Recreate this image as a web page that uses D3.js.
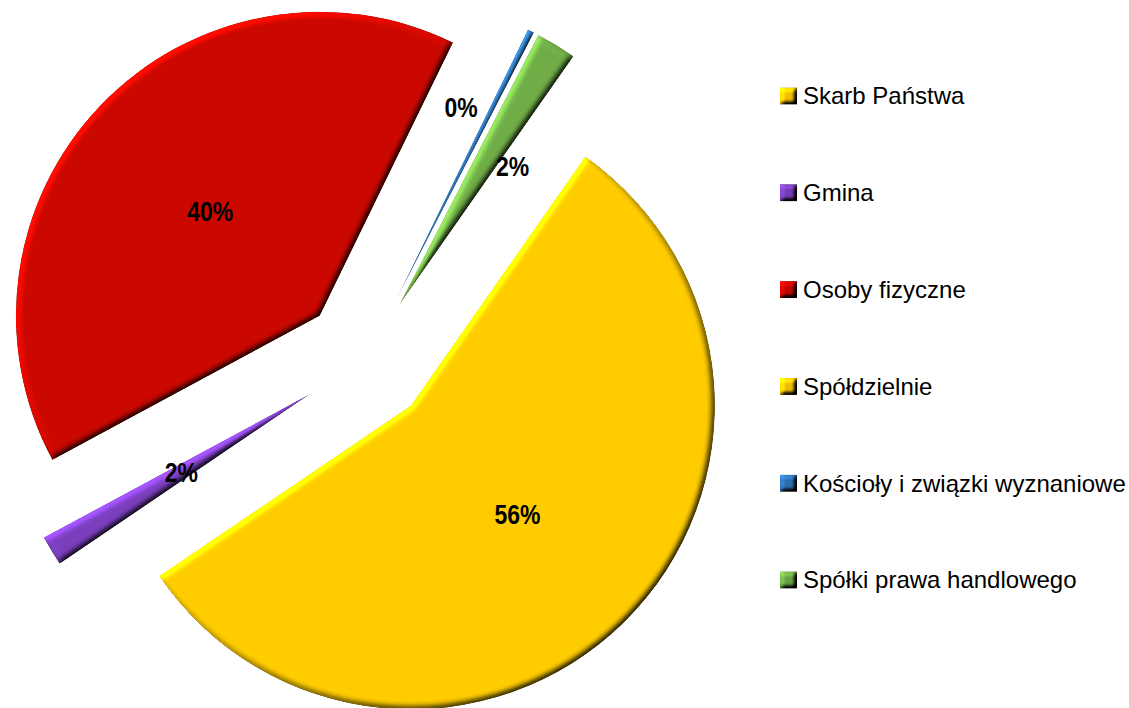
<!DOCTYPE html>
<html>
<head>
<meta charset="utf-8">
<script src="https://cdn.jsdelivr.net/npm/d3@7"></script>
<style>
	html, body { margin: 0; padding: 0; background: #fff; }
	svg { display: block; }
</style>
</head>
<body>
<script>
// categories in legend order (== clockwise slice order starting at the first slice)
var categories = ['Skarb Państwa', 'Gmina', 'Osoby fizyczne', 'Spółdzielnie', 'Kościoły i związki wyznaniowe', 'Spółki prawa handlowego'];
// shares in percent
var shares = [55.8, 1.6, 40.1, 0, 0.35, 2.15];
var colors = ['#FFCC00', '#7B3FBE', '#CA0800', '#FFCC00', '#2E74B5', '#70AD47'];

var width = 1129,
	height = 708;

var cx = 366, cy = 360;
var radius = 304;
var explode = 64;
var firstSliceAngle = 35; // degrees, like excel "angle of first slice"

// labels of the thin slices were pushed aside to avoid overlap
var labelShift = {
	'Kościoły i związki wyznaniowe': {angle: -6, dist: 270},
	'Spółki prawa handlowego': {angle: 6, dist: 243}
};

var svg = d3.select('body').append('svg')
	.attr('width', width)
	.attr('height', height);

var defs = svg.append('defs');

function bevel(id, blur, scale){
	var f = defs.append('filter')
		.attr('id', id)
		.attr('x', '-10%').attr('y', '-10%')
		.attr('width', '120%').attr('height', '120%')
		.attr('color-interpolation-filters', 'sRGB');
	f.append('feGaussianBlur')
		.attr('in', 'SourceAlpha')
		.attr('stdDeviation', blur)
		.attr('result', 'blur');
	f.append('feDiffuseLighting')
		.attr('in', 'blur')
		.attr('surfaceScale', scale)
		.attr('diffuseConstant', 1)
		.attr('lighting-color', '#fff')
		.attr('result', 'light')
		.append('feDistantLight')
			.attr('azimuth', 225)
			.attr('elevation', 45);
	// flat parts keep their colour (light = sin 45°), edges get lit / shaded
	f.append('feComposite')
		.attr('in', 'SourceGraphic')
		.attr('in2', 'light')
		.attr('operator', 'arithmetic')
		.attr('k1', Math.SQRT2).attr('k2', 0).attr('k3', 0).attr('k4', 0)
		.attr('result', 'lit');
	f.append('feComposite')
		.attr('in', 'lit')
		.attr('in2', 'SourceAlpha')
		.attr('operator', 'in');
}
bevel('bevel', 3, 3);
bevel('bevelSmall', 2, 4);

var data = categories.map(function(c, i){
	return {name: c, value: shares[i], color: colors[i]};
});

var start = firstSliceAngle * Math.PI / 180;
var pie = d3.pie()
	.sort(null)
	.value(function(d){ return d.value; })
	.startAngle(start)
	.endAngle(start + 2 * Math.PI);

var arc = d3.arc()
	.innerRadius(0)
	.outerRadius(radius);

var arcs = pie(data);

function offset(a, dist){
	return [Math.sin(a) * dist, -Math.cos(a) * dist];
}

var pieG = svg.append('g')
	.attr('transform', 'translate(' + cx + ',' + cy + ')');

pieG.selectAll('path')
	.data(arcs.filter(function(d){ return d.value > 0; }))
	.enter()
	.append('path')
	.attr('d', arc)
	.attr('fill', function(d){ return d.data.color; })
	.attr('filter', 'url(#bevel)')
	.attr('transform', function(d){
		var o = offset((d.startAngle + d.endAngle) / 2, explode);
		return 'translate(' + o[0] + ',' + o[1] + ')';
	});

// narrow bold labels: no narrow face installed, so squeeze the regular bold
pieG.selectAll('text')
	.data(arcs.filter(function(d){ return d.value > 0; }))
	.enter()
	.append('text')
	.attr('transform', function(d){
		var mid = (d.startAngle + d.endAngle) / 2;
		var s = labelShift[d.data.name];
		var p = s ? offset(mid + s.angle * Math.PI / 180, s.dist) : offset(mid, explode + radius / 2);
		return 'translate(' + p[0] + ',' + p[1] + ') scale(0.82,1)';
	})
	.attr('text-anchor', 'middle')
	.attr('dy', '0.36em')
	.style('font-family', '"Liberation Sans", Arial, sans-serif')
	.style('font-weight', 'bold')
	.style('font-size', '28px')
	.attr('fill', '#000')
	.text(function(d){ return d3.format('.0%')(d.value / 100); });

// legend
var legend = svg.append('g')
	.attr('transform', 'translate(780,96)');

var row = legend.selectAll('g')
	.data(data)
	.enter()
	.append('g')
	.attr('transform', function(d, i){ return 'translate(0,' + (i * 96.8) + ')'; });

row.append('rect')
	.attr('x', 0)
	.attr('y', -8.5)
	.attr('width', 17)
	.attr('height', 17)
	.attr('fill', function(d){ return d3.color(d.color).darker(0.2); })
	.attr('filter', 'url(#bevelSmall)');

row.append('text')
	.attr('x', 23)
	.attr('dy', '0.35em')
	.style('font-family', '"Liberation Sans", Arial, sans-serif')
	.style('font-size', '24px')
	.attr('fill', '#000')
	.text(function(d){ return d.name; });
</script>
</body>
</html>
